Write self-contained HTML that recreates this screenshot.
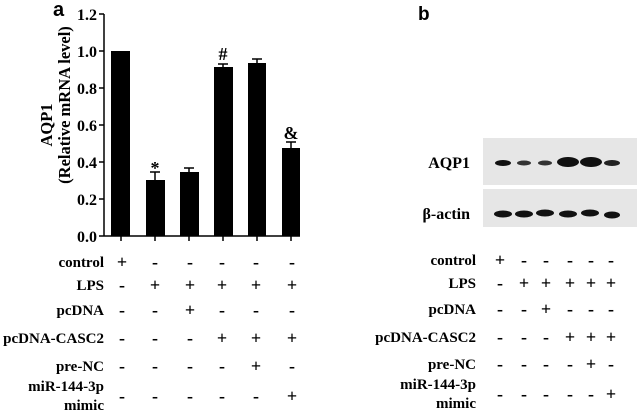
<!DOCTYPE html>
<html><head><style>
body{margin:0;background:#fff;}
svg text{font-family:"Liberation Serif",serif;font-weight:bold;fill:#000;}
</style></head><body>
<svg width="639" height="412" xmlns="http://www.w3.org/2000/svg">
<text x="53" y="16" style="font-family:'Liberation Sans',sans-serif" font-size="20">a</text>
<text x="418" y="20" style="font-family:'Liberation Sans',sans-serif" font-size="19">b</text>
<line x1="104" y1="14" x2="104" y2="236" stroke="#000" stroke-width="1.5"/>
<line x1="104" y1="236" x2="300" y2="236" stroke="#000" stroke-width="1.5"/>
<g stroke="#000" stroke-width="1.5">
<line x1="99" y1="14" x2="104" y2="14"/><line x1="99" y1="51" x2="104" y2="51"/>
<line x1="99" y1="88" x2="104" y2="88"/><line x1="99" y1="125" x2="104" y2="125"/>
<line x1="99" y1="162" x2="104" y2="162"/><line x1="99" y1="199" x2="104" y2="199"/>
<line x1="99" y1="236" x2="104" y2="236"/>
<line x1="121" y1="236" x2="121" y2="241"/><line x1="155" y1="236" x2="155" y2="241"/>
<line x1="189" y1="236" x2="189" y2="241"/><line x1="223" y1="236" x2="223" y2="241"/>
<line x1="257" y1="236" x2="257" y2="241"/><line x1="291" y1="236" x2="291" y2="241"/>
</g>
<g font-size="16" text-anchor="end">
<text x="97" y="20">1.2</text><text x="97" y="57">1.0</text><text x="97" y="94">0.8</text>
<text x="97" y="131">0.6</text><text x="97" y="168">0.4</text><text x="97" y="205">0.2</text>
<text x="97" y="242">0.0</text>
</g>
<text transform="translate(52,125) rotate(-90)" font-size="16.5" text-anchor="middle">AQP1</text>
<text transform="translate(70,105) rotate(-90)" font-size="16.5" text-anchor="middle">(Relative mRNA level)</text>
<g fill="#000">
<rect x="111" y="51" width="19" height="185"/>
<rect x="146" y="180" width="19" height="56"/>
<rect x="180" y="172" width="19" height="64"/>
<rect x="214" y="67" width="19" height="169"/>
<rect x="248" y="63" width="18" height="173"/>
<rect x="282" y="148" width="18" height="88"/>
</g>
<g stroke="#000" stroke-width="1.5">
<line x1="155" y1="180" x2="155" y2="172"/><line x1="150" y1="172" x2="160" y2="172"/>
<line x1="189" y1="172" x2="189" y2="168"/><line x1="184" y1="168" x2="194" y2="168"/>
<line x1="223" y1="67" x2="223" y2="64"/><line x1="218" y1="64" x2="228" y2="64"/>
<line x1="257" y1="63" x2="257" y2="59"/><line x1="252" y1="59" x2="262" y2="59"/>
<line x1="291" y1="148" x2="291" y2="142"/><line x1="286" y1="142" x2="296" y2="142"/>
</g>
<g font-size="18" text-anchor="middle">
<text x="155" y="174">*</text><text x="223" y="60">#</text><text x="291" y="139">&amp;</text>
</g>
<g font-size="15" text-anchor="end">
<text x="104" y="267">control</text><text x="104" y="290">LPS</text><text x="104" y="315">pcDNA</text>
<text x="104" y="343">pcDNA-CASC2</text><text x="104" y="371">pre-NC</text>
<text x="104" y="391">miR-144-3p</text><text x="104" y="410">mimic</text>
</g>
<g font-size="18" text-anchor="middle">
<text x="122" y="268">+</text><text x="155" y="268">-</text><text x="190" y="268">-</text><text x="222" y="268">-</text><text x="256" y="268">-</text><text x="292" y="268">-</text>
<text x="122" y="291">-</text><text x="155" y="291">+</text><text x="190" y="291">+</text><text x="222" y="291">+</text><text x="256" y="291">+</text><text x="292" y="291">+</text>
<text x="122" y="316">-</text><text x="155" y="316">-</text><text x="190" y="316">+</text><text x="222" y="316">-</text><text x="256" y="316">-</text><text x="292" y="316">-</text>
<text x="122" y="344">-</text><text x="155" y="344">-</text><text x="190" y="344">-</text><text x="222" y="344">+</text><text x="256" y="344">+</text><text x="292" y="344">+</text>
<text x="122" y="372">-</text><text x="155" y="372">-</text><text x="190" y="372">-</text><text x="222" y="372">-</text><text x="256" y="372">+</text><text x="292" y="372">-</text>
<text x="122" y="402">-</text><text x="155" y="402">-</text><text x="190" y="402">-</text><text x="222" y="402">-</text><text x="256" y="402">-</text><text x="292" y="402">+</text>
</g>
<rect x="483" y="138" width="154" height="47" fill="#e6e6e6"/>
<rect x="483" y="189" width="154" height="38" fill="#e6e6e6"/>
<g fill="#111">
<ellipse cx="503" cy="163" rx="8" ry="3"/>
<ellipse cx="524" cy="163" rx="7" ry="2.5" fill="#333"/>
<ellipse cx="545" cy="163" rx="7" ry="2.5" fill="#333"/>
<ellipse cx="568" cy="162" rx="11" ry="5"/>
<ellipse cx="591" cy="162" rx="11" ry="5"/>
<ellipse cx="612" cy="163" rx="8" ry="3" fill="#222"/>
<ellipse cx="503" cy="214" rx="9" ry="3.5"/>
<ellipse cx="524" cy="214" rx="9" ry="3.5"/>
<ellipse cx="545" cy="213" rx="9" ry="3.5"/>
<ellipse cx="568" cy="214" rx="9" ry="3.5"/>
<ellipse cx="590" cy="213" rx="9" ry="3.5"/>
<ellipse cx="612" cy="215" rx="8" ry="3.5"/>
</g>
<g font-size="16" text-anchor="end">
<text x="470" y="168">AQP1</text><text x="470" y="219">β-actin</text>
</g>
<g font-size="15" text-anchor="end">
<text x="476" y="265">control</text><text x="476" y="288">LPS</text><text x="476" y="314">pcDNA</text>
<text x="476" y="342">pcDNA-CASC2</text><text x="476" y="369">pre-NC</text>
<text x="476" y="389">miR-144-3p</text><text x="476" y="408">mimic</text>
</g>
<g font-size="18" text-anchor="middle">
<text x="500" y="266">+</text><text x="524" y="266">-</text><text x="546" y="266">-</text><text x="570" y="266">-</text><text x="591" y="266">-</text><text x="611" y="266">-</text>
<text x="500" y="289">-</text><text x="524" y="289">+</text><text x="546" y="289">+</text><text x="570" y="289">+</text><text x="591" y="289">+</text><text x="611" y="289">+</text>
<text x="500" y="315">-</text><text x="524" y="315">-</text><text x="546" y="315">+</text><text x="570" y="315">-</text><text x="591" y="315">-</text><text x="611" y="315">-</text>
<text x="500" y="343">-</text><text x="524" y="343">-</text><text x="546" y="343">-</text><text x="570" y="343">+</text><text x="591" y="343">+</text><text x="611" y="343">+</text>
<text x="500" y="370">-</text><text x="524" y="370">-</text><text x="546" y="370">-</text><text x="570" y="370">-</text><text x="591" y="370">+</text><text x="611" y="370">-</text>
<text x="500" y="400">-</text><text x="524" y="400">-</text><text x="546" y="400">-</text><text x="570" y="400">-</text><text x="591" y="400">-</text><text x="611" y="400">+</text>
</g>
</svg>
</body></html>
